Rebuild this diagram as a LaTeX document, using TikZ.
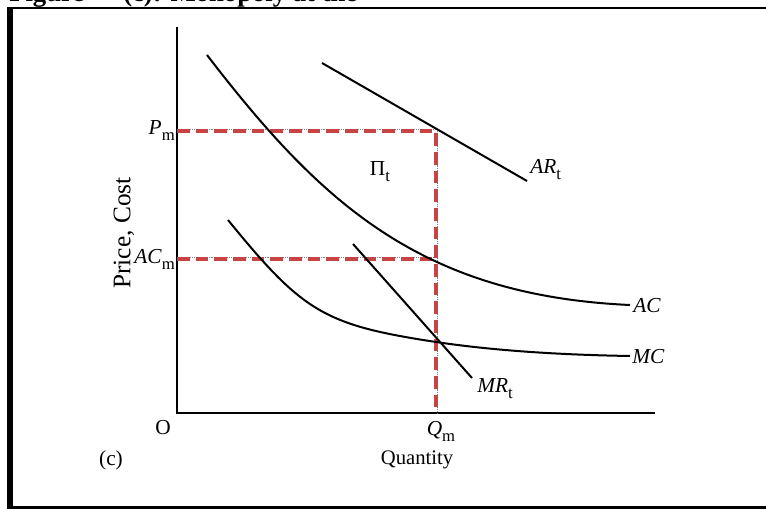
\documentclass[tikz,border=0pt]{standalone}
\usepackage{fontspec}
\setmainfont{Liberation Serif}
\definecolor{redd}{RGB}{198,68,68}
\newcommand{\lsub}[1]{\raisebox{-0.28em}{\fontsize{12.5}{13}\selectfont #1}}
\begin{document}
\begin{tikzpicture}[x=0.75pt,y=-0.75pt,
  curve/.style={line width=1.5pt,black},
  axisline/.style={line width=1pt,black},
  guide/.style={line width=2.3pt,color=redd,dash pattern=on 9.5pt off 4.5pt},
  guidedot/.style={line width=0.4pt,gray,densely dotted},
  lbl/.style={inner sep=0pt,font=\fontsize{16}{19}\selectfont},
  frame/.style={black}]
\useasboundingbox (0,0) rectangle (766,509);
% header (clipped)
\begin{scope}
\clip (0,0) rectangle (766,8);
\node[anchor=base west,inner sep=0pt,font=\bfseries\fontsize{20}{24}\selectfont] (hdA) at (9,1.5) {Figure};
\node[anchor=base west,inner sep=0pt,font=\bfseries\fontsize{20}{24}\selectfont] (hdB) at (123,1.5) {(c): Monopoly at the};
\end{scope}
% frame
\fill[frame] (8,7) rectangle (766,9.5);
\fill[frame] (7,7) rectangle (12.5,509);
\fill[frame] (7,505.5) rectangle (766,509);
% axes
\coordinate (O) at (177,413);
\coordinate (ytop) at (177,27);
\coordinate (xend) at (655,413);
\draw[axisline] (ytop) -- (O) -- (xend);
% guides
\coordinate (Pm) at (177,131);
\coordinate (ACm) at (177,259);
\coordinate (Ctop) at (436,131);
\coordinate (Cmid) at (436,259);
\coordinate (Qm) at (436,413);
\draw[guidedot] (177,129.5) -- (436,129.5);
\draw[guidedot] (177,257.5) -- (436,257.5);
\draw[guidedot] (437,131) -- (437,413);
\draw[guide] (Pm) -- (Ctop) -- (Qm);
\draw[guide] (ACm) -- (Cmid);
% curves
\draw[curve] (207,55) .. controls (320,202) and (420,295.5) .. (630,305);
\draw[curve] (228,220) .. controls (303,312) and (324,325) .. (436,342)
                       .. controls (500,351.6) and (570,355) .. (630,356);
\coordinate (AR1) at (322,63);
\coordinate (AR2) at (527,181);
\draw[curve] (AR1) -- (AR2);
\coordinate (MR1) at (353,244);
\coordinate (MR2) at (472,378);
\draw[curve] (MR1) -- (MR2);
% labels
\node[lbl,anchor=east] (lPm) at (175,131) {\textit{P}\lsub{m}};
\node[lbl,anchor=east] (lACm) at (175,259) {\textit{AC}\lsub{m}};
\node[lbl,rotate=90,font=\fontsize{19}{22}\selectfont] (lyax) at (124,233) {Price, Cost};
\node[lbl] (lO) at (163,428) {O};
\node[lbl] (lQm) at (441,431) {\textit{Q}\lsub{m}};
\node[lbl,font=\fontsize{15.5}{18}\selectfont] (lQ) at (417,460) {Quantity};
\node[lbl] (lc) at (111,460) {(c)};
\node[lbl] (lPi) at (380,172) {Π\lsub{t}};
\node[lbl,anchor=west] (lAR) at (530,170) {\textit{AR}\lsub{t}};
\node[lbl,anchor=west] (lAC) at (633,306) {\textit{AC}};
\node[lbl,anchor=west] (lMC) at (632,357) {\textit{MC}};
\node[lbl,anchor=west] (lMR) at (477,389) {\textit{MR}\lsub{t}};
\end{tikzpicture}
\end{document}
